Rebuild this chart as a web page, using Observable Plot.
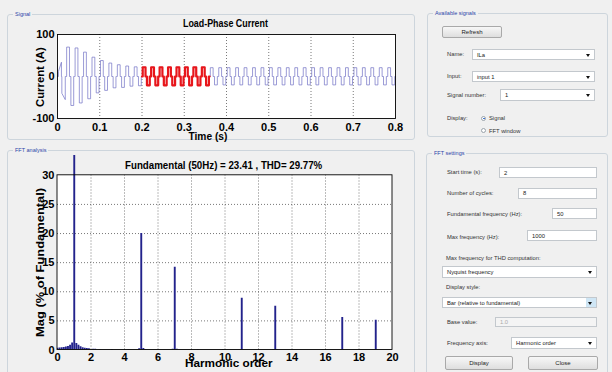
<!DOCTYPE html>
<html>
<head>
<meta charset="utf-8">
<script src="https://cdn.jsdelivr.net/npm/d3@7"></script>
<script src="https://cdn.jsdelivr.net/npm/@observablehq/plot@0.6"></script>
<style>
  html, body { margin: 0; padding: 0; }
  body { width: 612px; height: 372px; overflow: hidden; position: relative; background: #f0f0f0;
         font-family: "Liberation Sans", Arial, sans-serif; }
  .abs { position: absolute; }
  .grp { position: absolute; box-sizing: border-box; border: 1px solid #cdd5dc; border-radius: 3px; }
  .cap { position: absolute; top: -4px; left: 5px; padding: 0 2px; background: #f0f0f0; color: #2c44a8;
         font-size: 5.5px; line-height: 7px; white-space: nowrap; }
  .lbl { position: absolute; font-size: 5.8px; color: #333; white-space: nowrap; line-height: 7px; }
  .fld { position: absolute; box-sizing: border-box; background: #fff; border: 1px solid #c3c8cd;
         font-size: 5.8px; color: #222; padding-left: 4px; white-space: nowrap; display: flex; align-items: center; }
  .fld.off { background: #f4f4f4; color: #aaa; }
  .dd::after { content: ""; position: absolute; right: 4px; top: 50%; margin-top: -1px;
               border-left: 2px solid transparent; border-right: 2px solid transparent; border-top: 3px solid #111; }
  .dd.hi::before { content: ""; position: absolute; right: 0; top: 0; bottom: 0; width: 10px; background: #cfe6f5; }
  .btn { position: absolute; box-sizing: border-box; border: 1px solid #a9a9a9; border-radius: 2px;
         background: linear-gradient(#f7f7f7, #dedede); font-size: 6px; color: #222;
         display: flex; align-items: center; justify-content: center; }
  .radio { position: absolute; width: 5px; height: 5px; border-radius: 50%; border: 1px solid #9aa3ab;
           background: #fff; box-sizing: border-box; }
  .radio.on::after { content: ""; position: absolute; left: 1px; top: 1px; width: 1.5px; height: 1.5px;
           border-radius: 50%; background: #2a64c8; }
  .ttl { position: absolute; left: 0; top: 0; white-space: nowrap; font-weight: bold; font-size: 11.5px;
         line-height: 12px; color: #000; transform-origin: 0 0; }
</style>
</head>
<body>

<!-- group boxes -->
<div class="grp" style="left:7px;top:14px;width:408px;height:126px"><span class="cap">Signal</span></div>
<div class="grp" style="left:7px;top:150px;width:408px;height:230px"><span class="cap">FFT analysis</span></div>
<div class="grp" style="left:427px;top:13px;width:181px;height:124px"><span class="cap">Available signals</span></div>
<div class="grp" style="left:426px;top:153px;width:182px;height:225px"><span class="cap">FFT settings</span></div>

<div id="signalChart" class="abs" style="left:0;top:0"></div>
<div id="fftChart" class="abs" style="left:0;top:140px"></div>

<!-- chart titles and axis labels: data-cx/cy = centre, data-w = run length, data-rot = vertical -->
<div class="ttl" data-cx="225.5" data-cy="23" data-w="85">Load-Phase Current</div>
<div class="ttl" data-cx="39.5" data-cy="77" data-w="60" data-rot="1">Current (A)</div>
<div class="ttl" data-cx="208" data-cy="136" data-w="39">Time (s)</div>
<div class="ttl" data-cx="223.5" data-cy="165" data-w="197">Fundamental (50Hz) = 23.41 , THD= 29.77%</div>
<div class="ttl" data-cx="39.5" data-cy="262.5" data-w="149" data-rot="1" style="font-size:11px">Mag (% of Fundamental)</div>
<div class="ttl" data-cx="229" data-cy="363" data-w="88">Harmonic order</div>

<!-- Available signals -->
<div class="btn" style="left:442px;top:26px;width:60px;height:12px">Refresh</div>
<div class="lbl" style="left:447px;top:51px">Name:</div>
<div class="fld dd" style="left:472px;top:49px;width:123px;height:11px">ILa</div>
<div class="lbl" style="left:447px;top:73px">Input:</div>
<div class="fld dd" style="left:472px;top:71px;width:123px;height:11px">input 1</div>
<div class="lbl" style="left:447px;top:92px">Signal number:</div>
<div class="fld dd" style="left:500px;top:89px;width:95px;height:12px">1</div>
<div class="lbl" style="left:447px;top:115px">Display:</div>
<div class="radio on" style="left:481px;top:115.5px"></div>
<div class="lbl" style="left:489px;top:115px">Signal</div>
<div class="radio" style="left:481px;top:128px"></div>
<div class="lbl" style="left:489px;top:127.5px">FFT window</div>

<!-- FFT settings -->
<div class="lbl" style="left:447px;top:169px">Start time (s):</div>
<div class="fld" style="left:499px;top:167px;width:98px;height:11px">2</div>
<div class="lbl" style="left:447px;top:190px">Number of cycles:</div>
<div class="fld" style="left:518px;top:188px;width:79px;height:10.5px">8</div>
<div class="lbl" style="left:447px;top:211px">Fundamental frequency (Hz):</div>
<div class="fld" style="left:552px;top:208px;width:45px;height:11px">50</div>
<div class="lbl" style="left:447px;top:234px">Max frequency (Hz):</div>
<div class="fld" style="left:527px;top:230px;width:70px;height:11px">1000</div>
<div class="lbl" style="left:446px;top:255px">Max frequency for THD computation:</div>
<div class="fld dd" style="left:442px;top:266px;width:155px;height:12px">Nyquist frequency</div>
<div class="lbl" style="left:446px;top:284px">Display style:</div>
<div class="fld dd hi" style="left:442px;top:297px;width:155px;height:11px">Bar (relative to fundamental)</div>
<div class="lbl" style="left:447px;top:319px">Base value:</div>
<div class="fld off" style="left:495px;top:317px;width:102px;height:10px">1.0</div>
<div class="lbl" style="left:447px;top:340px">Frequency axis:</div>
<div class="fld dd" style="left:511px;top:337px;width:86px;height:12px">Harmonic order</div>
<div class="btn" style="left:445px;top:356px;width:68px;height:14px">Display</div>
<div class="btn" style="left:528px;top:356px;width:70px;height:14px">Close</div>

<script>
// ---------- Load-phase current (A) ----------
const period = 1 / 50;                  // 50 Hz supply
// start-up cycle, sampled by hand (s, A)
const startT = [0, 0.0022, 0.0022, 0.0093, 0.0093, 0.0103, 0.0103, 0.0184, 0.0184];
const startI = [0, 0, 12, 34, 0, 0, -40, -55, 0];
// quasi-square pulse of one cycle: phase (deg) and which peak it sits on
const stepPhase = [0, 30, 30, 150, 150, 210, 210, 330, 330];
const stepSign  = [0, 0, 1, 1, 0, 0, -1, -1, 0];
// positive / negative pulse heights for cycles 0..39
const posPeak = [34, 70, 68, 58, 46, 38, 32, 28, 25, 23,
                 22, 22, 22, 22, 22, 22, 22, 22, 21, 21,
                 21, 21, 21, 21, 21, 21, 21, 21, 21, 21,
                 21, 21, 21, 21, 21, 21, 21, 21, 21, 21];
const negPeak = [-55, -69, -63, -53, -39, -33, -27, -26, -23, -22,
                 -21, -21, -21, -21, -21, -21, -21, -21, -20, -20,
                 -20, -20, -20, -20, -20, -20, -20, -20, -20, -20,
                 -20, -20, -20, -20, -20, -20, -20, -20, -20, -20];
const timeTicks = [0, 0.1, 0.2, 0.3, 0.4, 0.5, 0.6, 0.7, 0.8];
const currentTicks = [-100, 0, 100];
const fftWindow = [0.2, 0.36];          // 8 cycles analysed

const signal = startT.map((t, j) => ({t, i: startI[j]}));
for (let k = 1; k < posPeak.length; ++k) {
  const t0 = k * period;
  stepPhase.forEach((p, j) => {
    const s = stepSign[j];
    signal.push({t: t0 + p / 360 * period, i: s > 0 ? posPeak[k] : s < 0 ? negPeak[k] : 0});
  });
}
signal.push({t: 0.8, i: 0});
const windowed = signal.filter(d => d.t >= fftWindow[0] - 1e-9 && d.t <= fftWindow[1] + 1e-9);

// ---------- FFT spectrum (% of fundamental) ----------
const harmOrder = [1, 5, 7, 11, 13, 17, 19];
const harmMag   = [100, 20.0, 14.2, 8.9, 7.5, 5.6, 5.1];
const leakOrder = [0, 0.125, 0.25, 0.375, 0.5, 0.625, 0.75, 0.875, 1.125, 1.25, 1.375, 1.5, 1.625, 1.75, 1.875,
                   2.125, 2.25, 2.5, 3.25, 4.25, 4.875, 5.125, 5.25, 6.875, 7.125, 8.375, 9.875, 12.875, 13.125];
const leakMag   = [0.3, 0.35, 0.4, 0.45, 0.5, 0.6, 0.8, 1.2, 1.1, 0.8, 0.55, 0.4, 0.3, 0.25, 0.2,
                   0.15, 0.15, 0.1, 0.1, 0.1, 0.2, 0.25, 0.1, 0.15, 0.15, 0.1, 0.1, 0.1, 0.1];
const orderTicks = [0, 2, 4, 6, 8, 10, 12, 14, 16, 18, 20];
const magTicks = [0, 5, 10, 15, 20, 25, 30];
const magView = 33.4;                   // headroom above the axes box

const spectrum = [
  ...leakOrder.map((h, j) => ({h, mag: leakMag[j]})),
  ...harmOrder.map((h, j) => ({h, mag: harmMag[j]}))
];

const axisFont = {fontFamily: '"Liberation Sans", Arial, sans-serif',
                  fontSize: "11px", fontWeight: "bold", color: "#000", background: "transparent",
                  overflow: "visible"};
const gridStyle = {stroke: "#444", strokeOpacity: 0.9, strokeDasharray: "1,2", strokeWidth: 0.8};

const signalPlot = Plot.plot({
  width: 420, height: 145,
  marginLeft: 57, marginRight: 25, marginTop: 34, marginBottom: 27,
  style: axisFont,
  x: {domain: [0, 0.8]},
  y: {domain: [-100, 100]},
  marks: [
    Plot.frame({fill: "#fff", stroke: null}),
    Plot.gridX(timeTicks.slice(1, -1), gridStyle),
    Plot.line(signal, {x: "t", y: "i", stroke: "#7474c6", strokeWidth: 0.8, strokeOpacity: 0.9}),
    Plot.line(windowed, {x: "t", y: "i", stroke: "#e8161b", strokeWidth: 2.2}),
    Plot.frame({stroke: "#000", strokeWidth: 0.9}),
    Plot.axisX(timeTicks, {tickSize: 0, tickPadding: 5, tickFormat: d => String(d), label: null}),
    Plot.axisY(currentTicks, {tickSize: 0, tickPadding: 3, tickFormat: d => String(d), label: null})
  ]
});
document.getElementById("signalChart").append(signalPlot);

const fftPlot = Plot.plot({
  width: 420, height: 232,
  marginLeft: 57, marginRight: 28, marginTop: 15, marginBottom: 22.5,
  style: axisFont,
  x: {domain: [0, 20]},
  y: {domain: [0, magView]},
  marks: [
    Plot.rect([magTicks], {x1: orderTicks[0], x2: orderTicks[orderTicks.length - 1],
                           y1: d => d[0], y2: d => d[d.length - 1], fill: "#fff"}),
    Plot.ruleY(magTicks.slice(1, -1), {...gridStyle}),
    Plot.ruleX(orderTicks.slice(1, -1), {...gridStyle, y1: magTicks[0], y2: magTicks[magTicks.length - 1]}),
    Plot.ruleX(spectrum, {x: "h", y1: 0, y2: "mag", stroke: "#23238c", strokeWidth: 1.9, clip: true}),
    Plot.rect([magTicks], {x1: orderTicks[0], x2: orderTicks[orderTicks.length - 1],
                           y1: d => d[0], y2: d => d[d.length - 1], fill: "none", stroke: "#000", strokeWidth: 0.9}),
    Plot.axisX(orderTicks, {tickSize: 0, tickPadding: 3, tickFormat: d => String(d), label: null}),
    Plot.axisY(magTicks, {tickSize: 0, tickPadding: 3, tickFormat: d => String(d), label: null})
  ]
});
document.getElementById("fftChart").append(fftPlot);

// place each title/axis label at its centre, squeezed to its run length
document.querySelectorAll(".ttl").forEach(el => {
  const w = el.offsetWidth, h = el.offsetHeight;
  const s = +el.dataset.w / w;
  const cx = +el.dataset.cx, cy = +el.dataset.cy;
  el.style.transform = `translate(${cx}px, ${cy}px) rotate(${el.dataset.rot ? -90 : 0}deg) scaleX(${s}) translate(${-w / 2}px, ${-h / 2}px)`;
});
</script>
</body>
</html>
